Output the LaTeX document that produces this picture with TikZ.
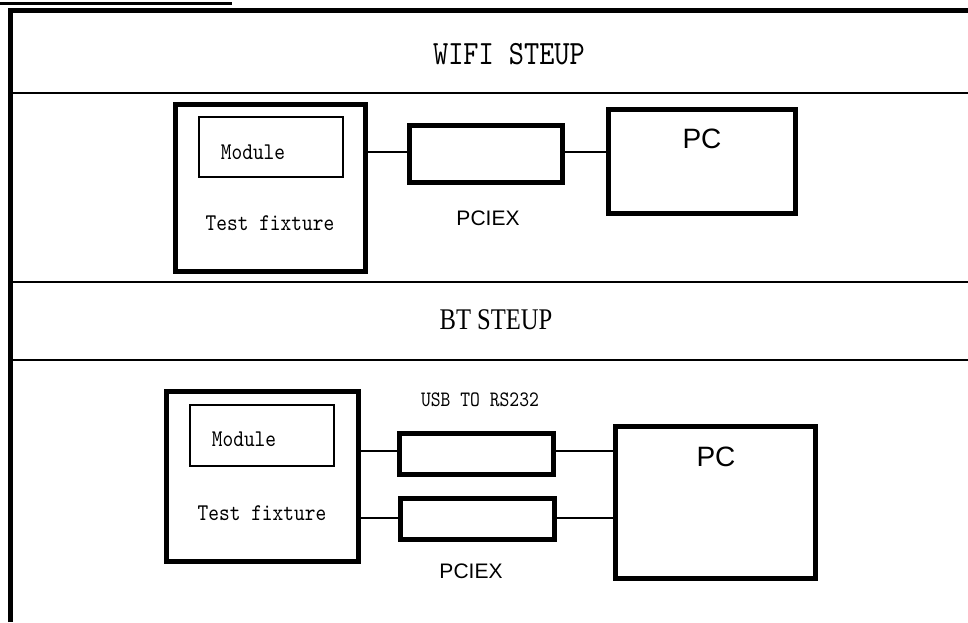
\documentclass[tikz,border=0pt]{standalone}
\usepackage{fontspec}
\setmainfont{Liberation Serif}
\newfontfamily\monof{lmmono10-regular.otf}[FakeStretch=0.85]
\newfontfamily\serifn[FakeStretch=0.82]{Liberation Serif}
\newfontfamily\arialf{Liberation Sans}
\begin{document}
\begin{tikzpicture}[x=1pt,y=-1pt,
  thickbox/.style={draw,line width=5pt,rectangle,inner sep=0,outer sep=0},
  thinbox/.style={draw,line width=1.5pt,rectangle,inner sep=0,outer sep=0},
  wire/.style={line width=1.5pt},
  divider/.style={line width=2pt},
  monotxt/.style={inner sep=0,font=\monof\fontsize{24}{28}\selectfont},
  sanstxt/.style={inner sep=0,font=\arialf\fontsize{21}{24}\selectfont},
  pctxt/.style={inner sep=0,font=\arialf\fontsize{28}{32}\selectfont}]
\useasboundingbox (0,0) rectangle (968,622);
% top rule and frame
\coordinate (r0) at (0,3.5);
\coordinate (r1) at (232,3.5);
\draw[line width=3pt] (r0) -- (r1);
\coordinate (fa) at (10,622);
\coordinate (fb) at (10,10);
\coordinate (fc) at (968,10);
\draw[line width=5pt] (fa) -- (fb) -- (fc);
\coordinate (d1a) at (12,93); \coordinate (d1b) at (968,93);
\coordinate (d2a) at (12,282); \coordinate (d2b) at (968,282);
\coordinate (d3a) at (12,360); \coordinate (d3b) at (968,360);
\draw[divider] (d1a) -- (d1b);
\draw[divider] (d2a) -- (d2b);
\draw[divider] (d3a) -- (d3b);
% titles
\node[inner sep=0,font=\monof\fontsize{34}{40}\selectfont] (t1) at (509,54) {WIFI STEUP};
\node[inner sep=0,font=\serifn\fontsize{30}{34}\selectfont] (t2) at (496,320) {BT STEUP};
% WIFI setup
\node[thickbox,minimum width=190,minimum height=167] (fx1) at (270.5,188) {};
\node[thinbox,minimum width=144,minimum height=60] (md1) at (271,147) {};
\node[monotxt] (mdt1) at (253,152) {Module};
\node[monotxt] (fxt1) at (270,223) {Test fixture};
\node[thickbox,minimum width=153,minimum height=57] (pc1box) at (486,154) {};
\node[sanstxt] (pcl1) at (488,218) {PCIEX};
\node[thickbox,minimum width=187,minimum height=104] (pc1) at (702,161.5) {};
\node[pctxt] (pct1) at (702,139) {PC};
\draw[wire] (pc1box.west |- 0,152) -- (fx1.east |- 0,152);
\draw[wire] (pc1box.east |- 0,152) -- (pc1.west |- 0,152);
% BT setup
\node[thickbox,minimum width=192,minimum height=170] (fx2) at (262.5,476.5) {};
\node[thinbox,minimum width=144,minimum height=61] (md2) at (262,435.5) {};
\node[monotxt] (mdt2) at (244,439) {Module};
\node[monotxt] (fxt2) at (262,513) {Test fixture};
\node[inner sep=0,font=\monof\fontsize{22}{26}\selectfont] (usbl) at (480,400) {USB TO RS232};
\node[thickbox,minimum width=154,minimum height=41] (usb) at (476.5,454) {};
\node[thickbox,minimum width=154,minimum height=41] (pcie2) at (477.5,519) {};
\node[sanstxt] (pcl2) at (471,571) {PCIEX};
\node[thickbox,minimum width=200,minimum height=152] (pc2) at (715.5,502.5) {};
\node[pctxt] (pct2) at (716,457) {PC};
\draw[wire] (usb.west |- 0,451) -- (fx2.east |- 0,451);
\draw[wire] (usb.east |- 0,451) -- (pc2.west |- 0,451);
\draw[wire] (pcie2.west |- 0,518) -- (fx2.east |- 0,518);
\draw[wire] (pcie2.east |- 0,518) -- (pc2.west |- 0,518);
\end{tikzpicture}
\end{document}
